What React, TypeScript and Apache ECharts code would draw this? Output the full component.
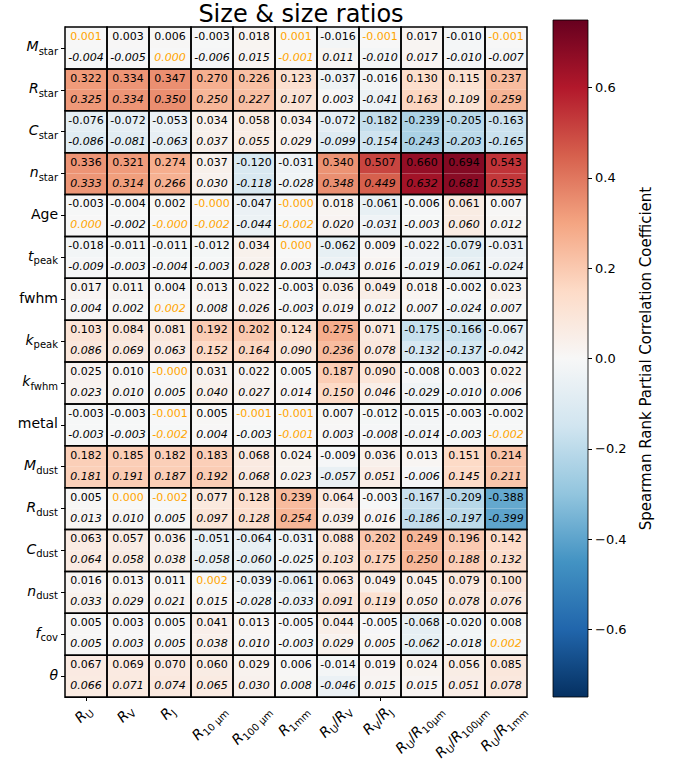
import React, { useEffect, useRef } from "react";
import * as echarts from "echarts";

const rowLabels = [
  "{i|M}{s|star}", "{i|R}{s|star}", "{i|C}{s|star}", "{i|n}{s|star}", "{n|Age}",
  "{i|t}{s|peak}", "{n|fwhm}", "{i|k}{s|peak}", "{i|k}{s|fwhm}", "{n|metal}",
  "{i|M}{s|dust}", "{i|R}{s|dust}", "{i|C}{s|dust}", "{i|n}{s|dust}", "{i|f}{s|cov}", "{i|θ}",
];

const colLabels = [
  "{i|R}{s|U}", "{i|R}{s|V}", "{i|R}{s|J}", "{i|R}{s|10 μm}", "{i|R}{s|100 μm}", "{i|R}{s|1mm}",
  "{i|R}{s|U}{n|/}{i|R}{s|V}", "{i|R}{s|V}{n|/}{i|R}{s|J}", "{i|R}{s|U}{n|/}{i|R}{s|10μm}",
  "{i|R}{s|U}{n|/}{i|R}{s|100μm}", "{i|R}{s|U}{n|/}{i|R}{s|1mm}",
];

const topValues: number[][] = [
  [0.001, 0.003, 0.006, -0.003, 0.018, 0.001, -0.016, -0.001, 0.017, -0.010, -0.001],
  [0.322, 0.334, 0.347, 0.270, 0.226, 0.123, -0.037, -0.016, 0.130, 0.115, 0.237],
  [-0.076, -0.072, -0.053, 0.034, 0.058, 0.034, -0.072, -0.182, -0.239, -0.205, -0.163],
  [0.336, 0.321, 0.274, 0.037, -0.120, -0.031, 0.340, 0.507, 0.660, 0.694, 0.543],
  [-0.003, -0.004, 0.002, -0.000, -0.047, -0.000, 0.018, -0.061, -0.006, 0.061, 0.007],
  [-0.018, -0.011, -0.011, -0.012, 0.034, 0.000, -0.062, 0.009, -0.022, -0.079, -0.031],
  [0.017, 0.011, 0.004, 0.013, 0.022, -0.003, 0.036, 0.049, 0.018, -0.002, 0.023],
  [0.103, 0.084, 0.081, 0.192, 0.202, 0.124, 0.275, 0.071, -0.175, -0.166, -0.067],
  [0.025, 0.010, -0.000, 0.031, 0.022, 0.005, 0.187, 0.090, -0.008, 0.003, 0.022],
  [-0.003, -0.003, -0.001, 0.005, -0.001, -0.001, 0.007, -0.012, -0.015, -0.003, -0.002],
  [0.182, 0.185, 0.182, 0.183, 0.068, 0.024, -0.009, 0.036, 0.013, 0.151, 0.214],
  [0.005, 0.000, -0.002, 0.077, 0.128, 0.239, 0.064, -0.003, -0.167, -0.209, -0.388],
  [0.063, 0.057, 0.036, -0.051, -0.064, -0.031, 0.088, 0.202, 0.249, 0.196, 0.142],
  [0.016, 0.013, 0.011, 0.002, -0.039, -0.061, 0.063, 0.049, 0.045, 0.079, 0.100],
  [0.005, 0.003, 0.005, 0.041, 0.013, -0.005, 0.044, -0.005, -0.068, -0.020, 0.008],
  [0.067, 0.069, 0.070, 0.060, 0.029, 0.006, -0.014, 0.019, 0.024, 0.056, 0.085],
];

const bottomValues: number[][] = [
  [-0.004, -0.005, 0.000, -0.006, 0.015, -0.001, 0.011, -0.010, 0.017, -0.010, -0.007],
  [0.325, 0.334, 0.350, 0.250, 0.227, 0.107, 0.003, -0.041, 0.163, 0.109, 0.259],
  [-0.086, -0.081, -0.063, 0.037, 0.055, 0.029, -0.099, -0.154, -0.243, -0.203, -0.165],
  [0.333, 0.314, 0.266, 0.030, -0.118, -0.028, 0.348, 0.449, 0.632, 0.681, 0.535],
  [0.000, -0.002, -0.000, -0.002, -0.044, -0.002, 0.020, -0.031, -0.003, 0.060, 0.012],
  [-0.009, -0.003, -0.004, -0.003, 0.028, 0.003, -0.043, 0.016, -0.019, -0.061, -0.024],
  [0.004, 0.002, 0.002, 0.008, 0.026, -0.003, 0.019, 0.012, 0.007, -0.024, 0.007],
  [0.086, 0.069, 0.063, 0.152, 0.164, 0.090, 0.236, 0.078, -0.132, -0.137, -0.042],
  [0.023, 0.010, 0.005, 0.040, 0.027, 0.014, 0.150, 0.046, -0.029, -0.010, 0.006],
  [-0.003, -0.003, -0.002, 0.004, -0.003, -0.001, 0.003, -0.008, -0.014, -0.003, -0.002],
  [0.181, 0.191, 0.187, 0.192, 0.068, 0.023, -0.057, 0.051, -0.006, 0.145, 0.211],
  [0.013, 0.010, 0.005, 0.097, 0.128, 0.254, 0.039, 0.016, -0.186, -0.197, -0.399],
  [0.064, 0.058, 0.038, -0.058, -0.060, -0.025, 0.103, 0.175, 0.250, 0.188, 0.132],
  [0.033, 0.029, 0.021, 0.015, -0.028, -0.033, 0.091, 0.119, 0.050, 0.078, 0.076],
  [0.005, 0.003, 0.005, 0.038, 0.010, -0.003, 0.029, 0.005, -0.062, -0.018, 0.002],
  [0.066, 0.071, 0.074, 0.065, 0.030, 0.008, -0.046, 0.015, 0.015, 0.051, 0.078],
];

// [row, column, half (0 = upper, 1 = lower)] of the values printed in orange
const orangeCells: [number, number, number][] = [
  [0, 0, 0], [0, 5, 0], [0, 7, 0], [0, 10, 0], [0, 2, 1], [0, 5, 1],
  [4, 3, 0], [4, 5, 0], [4, 0, 1], [4, 2, 1], [4, 3, 1], [4, 5, 1],
  [5, 5, 0], [6, 2, 1], [8, 2, 0],
  [9, 2, 0], [9, 4, 0], [9, 5, 0], [9, 2, 1], [9, 5, 1], [9, 10, 1],
  [11, 1, 0], [11, 2, 0], [13, 3, 0], [14, 10, 1],
];

const colorbarTicks = [-0.6, -0.4, -0.2, 0.0, 0.2, 0.4, 0.6];
const vMin = -0.75;
const vMax = 0.75;

const RdBu_r = [
  "#053061", "#2166ac", "#4393c3", "#92c5de", "#d1e5f0", "#f7f7f7",
  "#fddbc7", "#f4a582", "#d6604d", "#b2182b", "#67001f",
];

const FONT = "DejaVu Sans";

type Cell = { r: number; c: number; h: number; v: number; orange: boolean };

function fmt(v: number): string {
  if (Object.is(v, -0)) return "-0.000";
  return v.toFixed(3);
}

const X_MAIN = 14;
const X_SUB = 10;

function measureRich(label: string): number {
  const canvas = document.createElement("canvas");
  const ctx = canvas.getContext("2d");
  if (!ctx) return label.length * 7;
  let total = 0;
  const re = /\{(\w)\|([^}]*)\}/g;
  let m: RegExpExecArray | null;
  while ((m = re.exec(label)) !== null) {
    const kind = m[1];
    const size = kind === "s" ? X_SUB : X_MAIN;
    ctx.font = `${kind === "i" ? "italic " : ""}${size}px "${FONT}"`;
    total += ctx.measureText(m[2]).width;
  }
  return total;
}

export default function App() {
  const ref = useRef<HTMLDivElement>(null);
  useEffect(() => {
    if (!ref.current) return;
    const chart = echarts.init(ref.current, undefined, { renderer: "svg" });

    const cells: Cell[] = [];
    const orangeSet = new Set(orangeCells.map((o) => o.join(",")));
    rowLabels.forEach((_, r) => {
      colLabels.forEach((_, c) => {
        [topValues[r][c], bottomValues[r][c]].forEach((v, h) => {
          cells.push({ r, c, h, v, orange: orangeSet.has(`${r},${c},${h}`) });
        });
      });
    });

    const gridLeft = 65, gridTop = 27, gridW = 462, gridH = 670;
    const cbLeft = 553, cbTop = 20, cbW = 35, cbH = 677;

    const richY = {
      i: { fontFamily: FONT, fontSize: 14, fontStyle: "italic", color: "#000", verticalAlign: "bottom", padding: [0, 0, 3, 0] },
      s: { fontFamily: FONT, fontSize: 10, color: "#000", verticalAlign: "bottom" },
      n: { fontFamily: FONT, fontSize: 14, color: "#000", verticalAlign: "bottom", padding: [0, 0, 3, 0] },
    };
    const richX = {
      i: { fontFamily: FONT, fontSize: X_MAIN, fontStyle: "italic", fill: "#000", verticalAlign: "bottom", padding: [0, 0, 3, 0] },
      s: { fontFamily: FONT, fontSize: X_SUB, fill: "#000", verticalAlign: "bottom" },
      n: { fontFamily: FONT, fontSize: X_MAIN, fill: "#000", verticalAlign: "bottom", padding: [0, 0, 3, 0] },
    };
    const xLabelWidths = colLabels.map(measureRich);
    const lastRow = rowLabels.length - 1;

    const option: any = {
      animation: false,
      backgroundColor: "#fff",
      textStyle: { fontFamily: FONT },
      title: {
        text: "Size & size ratios",
        left: gridLeft + gridW / 2,
        textAlign: "center",
        top: -3,
        textStyle: { fontFamily: FONT, fontSize: 24, fontWeight: "normal", color: "#000" },
      },
      grid: [
        { left: gridLeft, top: gridTop, width: gridW, height: gridH, containLabel: false, outerBoundsMode: "none" },
        { left: cbLeft, top: cbTop, width: cbW, height: cbH, containLabel: false, outerBoundsMode: "none" },
      ],
      xAxis: [
        {
          type: "category",
          gridIndex: 0,
          data: colLabels,
          position: "bottom",
          axisLine: { show: true, lineStyle: { color: "#000", width: 1 } },
          axisTick: { show: true, alignWithLabel: true, length: 4, lineStyle: { color: "#000" } },
          axisLabel: { show: false },
          splitLine: { show: false },
        },
        {
          type: "category",
          gridIndex: 1,
          data: ["cb"],
          show: false,
        },
      ],
      yAxis: [
        {
          type: "category",
          gridIndex: 0,
          data: rowLabels,
          inverse: true,
          axisLine: { show: true, lineStyle: { color: "#000", width: 1 } },
          axisTick: { show: true, alignWithLabel: true, length: 4, lineStyle: { color: "#000" } },
          axisLabel: { interval: 0, margin: 7, rich: richY, color: "#000" },
          splitLine: { show: false },
        },
        {
          type: "value",
          gridIndex: 1,
          min: vMin,
          max: vMax,
          position: "right",
          axisLine: { show: false },
          axisTick: { show: true, length: 4, lineStyle: { color: "#000" }, customValues: colorbarTicks },
          axisLabel: {
            show: true,
            customValues: colorbarTicks,
            margin: 7,
            fontFamily: FONT,
            fontSize: 13,
            color: "#000",
            formatter: (v: number) => (v < 0 ? "\u2212" + Math.abs(v).toFixed(1) : v.toFixed(1)),
          },
          splitLine: { show: false },
          name: "Spearman Rank Partial Correlation Coefficient",
          nameLocation: "middle",
          nameRotate: 90,
          nameGap: 50,
          nameTextStyle: { fontFamily: FONT, fontSize: 15, color: "#000" },
        },
      ],
      visualMap: {
        type: "continuous",
        show: false,
        min: vMin,
        max: vMax,
        dimension: 2,
        seriesIndex: 0,
        inRange: { color: RdBu_r },
      },
      series: [
        {
          type: "custom",
          xAxisIndex: 0,
          yAxisIndex: 0,
          data: cells.map((cell) => [cell.c, cell.r, cell.v]),
          encode: { x: 0, y: 1 },
          renderItem: (params: any, api: any) => {
            const cell = cells[params.dataIndex];
            const center = api.coord([cell.c, cell.r]);
            const size = api.size([1, 1]);
            const w = size[0], hh = size[1];
            const x0 = center[0] - w / 2;
            const yTop = center[1] - hh / 2;
            const y0 = yTop + (cell.h * hh) / 2;
            const children: any[] = [
              {
                type: "rect",
                shape: { x: x0, y: y0, width: w, height: hh / 2 },
                style: { fill: api.visual("color") },
                z2: 0,
              },
              {
                type: "text",
                x: center[0],
                y: y0 + hh / 4 - 1,
                style: {
                  text: fmt(cell.v),
                  fill: cell.orange ? "#ffa500" : "#000",
                  fontFamily: FONT,
                  fontSize: 11,
                  fontStyle: cell.h === 1 ? "italic" : "normal",
                  align: "center",
                  verticalAlign: "middle",
                },
                z2: 5,
              },
            ];
            if (cell.h === 1) {
              children.push({
                type: "rect",
                shape: { x: x0, y: yTop, width: w, height: hh },
                style: { fill: "none", stroke: "#000", lineWidth: 1.5 },
                z2: 10,
              });
            }
            return { type: "group", children };
          },
        },
        {
          type: "custom",
          xAxisIndex: 1,
          yAxisIndex: 1,
          data: [[0, vMin, vMax]],
          encode: { x: 0, y: [1, 2] },
          renderItem: (params: any, api: any) => {
            const top = api.coord([0, api.value(2)]);
            const bottom = api.coord([0, api.value(1)]);
            const w = api.size([1, 0])[0];
            return {
              type: "rect",
              shape: { x: top[0] - w / 2, y: top[1], width: w, height: bottom[1] - top[1] },
              style: {
                fill: new echarts.graphic.LinearGradient(
                  0, 1, 0, 0,
                  RdBu_r.map((color, i) => ({ offset: i / (RdBu_r.length - 1), color }))
                ),
                stroke: "#000",
                lineWidth: 0.8,
              },
            };
          },
        },
        {
          // rotated x tick labels, centred horizontally on their ticks
          type: "custom",
          xAxisIndex: 0,
          yAxisIndex: 0,
          data: colLabels.map((_, c) => [c, lastRow]),
          encode: { x: 0, y: 1 },
          clip: false,
          silent: true,
          renderItem: (params: any, api: any) => {
            const c = params.dataIndex;
            const p = api.coord([c, lastRow]);
            const size = api.size([1, 1]);
            const axisY = p[1] + size[1] / 2;
            const W = xLabelWidths[c];
            const H = 17;
            const bb = (W + H) / Math.SQRT2;
            return {
              type: "text",
              x: p[0] - 2,
              y: axisY + 6 + bb / 2,
              rotation: Math.PI / 4,
              style: {
                text: colLabels[c],
                rich: richX,
                align: "center",
                verticalAlign: "middle",
                fill: "#000",
              },
            };
          },
        },
      ],
    };

    chart.setOption(option);
    return () => chart.dispose();
  }, []);

  return (
    <div
      ref={ref}
      style={{ position: "fixed", left: 0, top: 0, width: 675, height: 773 }}
    />
  );
}
